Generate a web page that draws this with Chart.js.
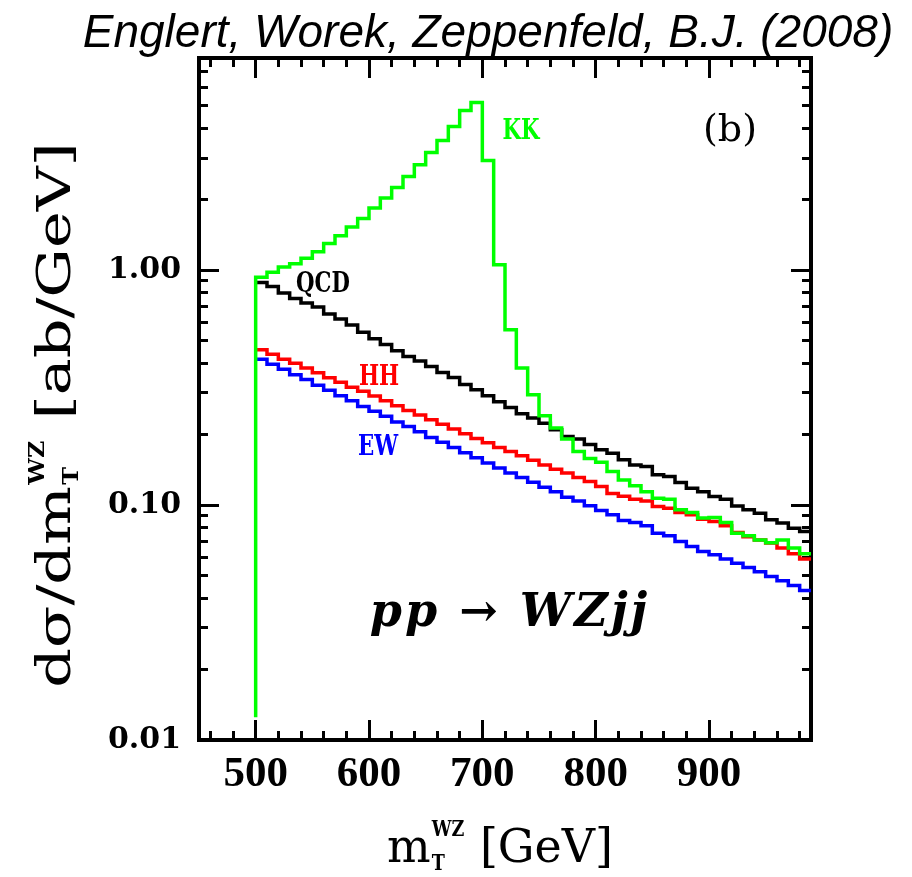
<!DOCTYPE html>
<html><head><meta charset="utf-8">
<script src="https://cdn.jsdelivr.net/npm/chart.js@4"></script>
<style>html,body{margin:0;padding:0;background:#fff;} #wrap{width:912px;height:877px;position:relative;}</style>
</head><body><div id="wrap"><canvas id="c"></canvas></div>
<script>
// ---- data ----
const binLowEdges = [500,510,520,530,540,550,560,570,580,590,600,610,620,630,640,650,660,670,680,690,700,710,720,730,740,750,760,770,780,790,800,810,820,830,840,850,860,870,880,890,900,910,920,930,940,950,960,970,980];
const binUpperEdge = 990;
const kkValues = [0.932,0.979,1.032,1.066,1.123,1.199,1.300,1.402,1.527,1.661,1.839,2.029,2.251,2.506,2.811,3.171,3.567,4.091,4.786,5.176,2.930,1.055,0.558,0.383,0.295,0.240,0.213,0.191,0.169,0.158,0.152,0.139,0.128,0.121,0.114,0.107,0.106,0.0955,0.093,0.088,0.0885,0.0843,0.0759,0.0740,0.0711,0.0692,0.0711,0.0656,0.0620];
const kkStartValue = 0.0125;
const qcdValues = [0.887,0.853,0.800,0.758,0.725,0.697,0.651,0.620,0.584,0.544,0.511,0.483,0.454,0.429,0.410,0.389,0.367,0.349,0.326,0.310,0.292,0.275,0.260,0.245,0.235,0.223,0.209,0.196,0.191,0.181,0.172,0.166,0.156,0.148,0.146,0.1345,0.1324,0.1248,0.118,0.114,0.1088,0.106,0.0992,0.0955,0.0924,0.0865,0.0838,0.0797,0.0771];
const hhValues = [0.458,0.439,0.418,0.402,0.383,0.366,0.348,0.333,0.317,0.305,0.291,0.278,0.265,0.253,0.242,0.231,0.221,0.211,0.201,0.192,0.184,0.176,0.169,0.162,0.155,0.148,0.142,0.137,0.131,0.126,0.120,0.112,0.109,0.106,0.104,0.0986,0.0970,0.0930,0.0909,0.0871,0.0851,0.0816,0.0764,0.0734,0.0711,0.0689,0.0656,0.0620,0.0590];
const ewValues = [0.418,0.398,0.379,0.359,0.342,0.324,0.308,0.292,0.278,0.263,0.251,0.239,0.226,0.216,0.205,0.194,0.185,0.176,0.167,0.159,0.151,0.144,0.137,0.131,0.125,0.119,0.114,0.108,0.104,0.0993,0.0948,0.0909,0.0859,0.0843,0.0816,0.0759,0.0740,0.0700,0.0666,0.0634,0.0614,0.0589,0.0565,0.0543,0.0520,0.0497,0.0476,0.0455,0.0433];

const xMin = 450, xMax = 990;
const yMin = 0.01, yMax = 8;
const xMajorTicks = [500,600,700,800,900];
const xMajorLabels = ['500','600','700','800','900'];
const xMinorTicks = [460,480,520,540,560,580,620,640,660,680,720,740,760,780,820,840,860,880,920,940,960,980];
const yMajorTicks = [0.01,0.1,1];
const yMajorLabels = ['0.01','0.10','1.00'];
const yMinorTicks = [0.02,0.03,0.04,0.05,0.06,0.07,0.08,0.09,0.2,0.3,0.4,0.5,0.6,0.7,0.8,0.9,2,3,4,5,6,7];

// ---- build step series ----
function stepData(values){
  const pts = binLowEdges.map((x,i)=>({x:x, y:values[i]}));
  pts.push({x: binUpperEdge, y: values[values.length-1]});
  return pts;
}
const kkData = [{x: binLowEdges[0], y: kkStartValue}].concat(stepData(kkValues));

function setTicks(arr){ return (s)=>{ s.ticks = arr.map(v=>({value:v})); }; }
const majorLen = -20, minorLen = -9;
function axis(type, pos, ticksArr, len, opts){
  const isX = (pos==='bottom'||pos==='top');
  const o = {
    type: type, position: pos,
    min: isX ? xMin : yMin, max: isX ? xMax : yMax,
    afterBuildTicks: setTicks(ticksArr),
    grid: {display:true, drawOnChartArea:false, drawTicks:true, tickLength: len, lineWidth: 3, tickWidth: 3, color:'#000', tickColor:'#000'},
    border: {display: !!(opts&&opts.border), width: 4, color:'#000'},
    ticks: {display:false, autoSkip:false},
    weight: (opts&&opts.weight)||0,
    afterFit: (s)=>{ if (isX) s.height = (opts&&opts.size)||0; else s.width = (opts&&opts.size)||0; }
  };
  if (opts && opts.labels) {
    o.ticks = Object.assign({display:true, autoSkip:false, color:'#000', maxRotation:0, minRotation:0}, opts.labels);
  }
  return o;
}

const scales = {
  x: axis('linear','bottom', xMajorTicks, majorLen, {border:true, weight:1, size:137,
       labels:{font:{family:'"Liberation Serif"', size:43, weight:'bold'}, padding:29, callback:(v,i)=>xMajorLabels[i]}}),
  xMinor: axis('linear','bottom', xMinorTicks, minorLen, {weight:0}),
  xTop: axis('linear','top', xMajorTicks, majorLen, {border:true, weight:1}),
  xTopMinor: axis('linear','top', xMinorTicks, minorLen, {weight:0}),
  y: axis('logarithmic','left', yMajorTicks, majorLen, {border:true, weight:1, size:199,
       labels:{font:{family:'"DejaVu Serif"', size:30, weight:'bold'}, padding:38, callback:(v,i)=>yMajorLabels[i]}}),
  yMinor: axis('logarithmic','left', yMinorTicks, minorLen, {weight:0}),
  yRight: axis('logarithmic','right', yMajorTicks, majorLen, {border:true, weight:1}),
  yRightMinor: axis('logarithmic','right', yMinorTicks, minorLen, {weight:0})
};

// ---- text annotations ----
const titleText = 'Englert, Worek, Zeppenfeld, B.J. (2008)';
const seriesLabels = [
  {text:'KK', color:'#00ff00', x:521, y:132},
  {text:'QCD', color:'#000000', x:323, y:285},
  {text:'HH', color:'#ff0000', x:379, y:378},
  {text:'EW', color:'#0000ff', x:378, y:448}
];
function drawScaled(ctx, text, x, y, sx){
  ctx.save(); ctx.translate(x, y); ctx.scale(sx, 1); ctx.fillText(text, 0, 0); ctx.restore();
}
const textPlugin = {
  id:'texts',
  afterDraw(chart){
    const ctx = chart.ctx;
    ctx.save();
    ctx.fillStyle = '#000';
    ctx.textBaseline = 'alphabetic';
    // title
    ctx.font = 'italic 46px "Liberation Sans"';
    ctx.textAlign = 'center';
    ctx.fillText(titleText, 488, 47);
    // series labels
    ctx.font = 'bold 28px "DejaVu Serif"';
    ctx.textBaseline = 'middle';
    seriesLabels.forEach(l=>{ ctx.fillStyle = l.color; drawScaled(ctx, l.text, l.x, l.y, 0.76); });
    // panel label
    ctx.fillStyle = '#000';
    ctx.font = '38px "DejaVu Serif"';
    ctx.fillText('(b)', 730, 131);
    // process
    ctx.font = 'bold italic 46px "DejaVu Serif"';
    ctx.letterSpacing = '3px';
    ctx.fillText('pp \u2192 WZjj', 510, 614);
    ctx.letterSpacing = '0px';
    // x title
    ctx.textAlign = 'left'; ctx.textBaseline = 'alphabetic';
    drawMath(ctx, 'm', 'WZ', 'T', ' [GeV]', 500, 862, '46px "DejaVu Serif"', 'bold 22px "DejaVu Serif"', 1.0, 0.8);
    // y title
    ctx.save();
    ctx.translate(70, 415);
    ctx.rotate(-Math.PI/2);
    ctx.scale(1.35, 1);
    drawMath(ctx, 'd\u03c3/dm', 'WZ', 'T', ' [ab/GeV]', 0, 0, '46px "DejaVu Serif"', 'bold 22px "DejaVu Serif"', 1.0, 0.8);
    ctx.restore();
    ctx.restore();
  }
};
function drawMath(ctx, base, sup, sub, rest, cx, by, font, sfont, sx, ssx){
  ctx.font = font; const wb = ctx.measureText(base).width; const wr = ctx.measureText(rest).width;
  ctx.font = sfont; const ws = Math.max(ctx.measureText(sup).width, ctx.measureText(sub).width) * ssx;
  const total = wb + ws + 2 + wr;
  let x = cx - total/2;
  ctx.font = font; ctx.fillText(base, x, by); x += wb + 1;
  ctx.font = sfont; drawScaled(ctx, sup, x, by - 26, ssx); drawScaled(ctx, sub, x, by + 8, ssx); x += ws + 1;
  ctx.font = font; ctx.fillText(rest, x, by);
}

const ds = (label, data, color)=>({label, data, borderColor:color, backgroundColor:color, borderWidth:3.5, pointRadius:0, fill:false, stepped:'before', tension:0});

new Chart(document.getElementById('c'), {
  type:'line',
  data:{ datasets:[
    ds('KK', kkData, '#00ff00'),
    ds('QCD', stepData(qcdValues), '#000000'),
    ds('HH', stepData(hhValues), '#ff0000'),
    ds('EW', stepData(ewValues), '#0000ff')
  ]},
  options:{
    responsive:true, maintainAspectRatio:false, animation:false,
    layout:{padding:{left:0, right:101, top:58, bottom:0}},
    plugins:{legend:{display:false}, tooltip:{enabled:false}, title:{display:false}},
    scales: scales
  },
  plugins:[textPlugin]
});
</script></body></html>
